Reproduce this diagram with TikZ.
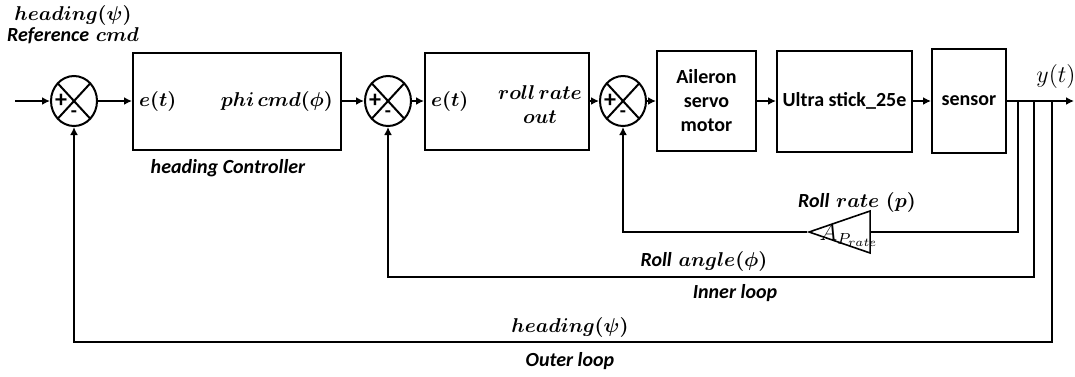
\documentclass[tikz,border=0pt]{standalone}
\usepackage{amsmath}
\usepackage{bm}
\usepackage{fontspec}
\newfontfamily\carlito{Carlito}
\usetikzlibrary{shapes.geometric,arrows.meta}

\tikzstyle{block} = [draw, rectangle, line width=1pt, inner sep=2pt]
\tikzstyle{sumj} = [draw, ellipse, line width=1pt, minimum width=23pt, minimum height=25pt, inner sep=0pt,
    path picture={\draw[line width=1pt] (path picture bounding box.north west) -- (path picture bounding box.south east)
    (path picture bounding box.south west) -- (path picture bounding box.north east);}]
\tikzstyle{sgn} = [inner sep=0pt, font=\carlito\bfseries]
\tikzstyle{sig} = [line width=1pt, -{Latex[length=4pt,width=4pt]}]
\tikzstyle{lbl} = [font=\carlito\bfseries\itshape]
\tikzstyle{gain} = [draw, isosceles triangle, shape border rotate=180, isosceles triangle stretches,
    minimum width=21pt, minimum height=30.5pt, inner sep=0pt, line width=0.8pt]

\begin{document}
\begin{tikzpicture}[x=0.5pt, y=-0.5pt]
\useasboundingbox (0,0) rectangle (1075,376);
% forward path
\coordinate (in) at (15,101);
\node[sumj] (s1) at (74,101) {};
\node[block, minimum width=104pt, minimum height=48.5pt] (ctrl) at (237,101) {};
\node[anchor=west] (e1) at (ctrl.west) {$\bm{e(t)}$};
\node[anchor=east] (phicmd) at ([xshift=-1pt]ctrl.east) {$\bm{phi\,cmd(\phi)}$};
\node[sumj] (s2) at (388,101) {};
\node[block, minimum width=82pt, minimum height=48.5pt] (rate) at (507,101) {};
\node[anchor=west] (e2) at (rate.west) {$\bm{e(t)}$};
\node[align=center] (rro) at (540,105) {$\bm{roll\,rate}$\\$\bm{out}$};
\node[sumj] (s3) at (623,101) {};
\node[block, minimum width=49.5pt, minimum height=50pt, align=center, font=\carlito\bfseries] (servo) at (706.5,101) {Aileron\\servo\\motor};
\node[block, minimum width=67.5pt, minimum height=50.5pt, font=\carlito\bfseries] (plant) at (844.5,101) {Ultra stick\_25e};
\node[block, minimum width=37pt, minimum height=52pt, font=\carlito\bfseries] (sensor) at (969,101) {sensor};
\coordinate (t1) at (1018,101);
\coordinate (t2) at (1034,101);
\coordinate (t3) at (1052,101);
\coordinate (out) at (1074,101);

% signs in the summing junctions
\foreach \s in {s1,s2,s3} {
    \node[sgn, font=\carlito\bfseries\large] (\s-p) at ([xshift=-6.5pt]\s.center) {+};
    \node[sgn] (\s-m) at ([yshift=-6.5pt]\s.center) {-};
}

\draw[sig] (in) -- (s1);
\draw[sig] (s1) -- (ctrl);
\draw[sig] (ctrl) -- (s2);
\draw[sig] (s2) -- (rate);
\draw[sig] (rate) -- (s3);
\draw[sig] (s3) -- (servo);
\draw[sig] (servo) -- (plant);
\draw[sig] (plant) -- (sensor);
\draw[sig] (sensor) -- (out);

% feedback loops
\node[gain, anchor=apex] (gain) at (807,232) {};
\node (glbl) at (849,235) {\large $A_{P_{rate}}$};
\coordinate (b2) at (1034,277);
\coordinate (b3) at (1052,342);
\draw[line width=1pt] (t1) |- (gain.lower side);
\draw[sig] (gain.apex) -| (s3.south);
\draw[sig] (t2) -- (b2) -| (s2.south);
\draw[sig] (t3) -- (b3) -| (s1.south);

% labels
\node (href) at (73,15) {$\bm{heading(\psi)}$};
\node (refcmd) at (73,36) {{\carlito\bfseries\itshape Reference} $\bm{cmd}$};
\node[lbl] (hctrl) at (228,168) {heading Controller};
\node (yt) at (1056,76) {\large $y(t)$};
\node (lrr) at (857,202) {{\carlito\bfseries\itshape Roll} $\bm{rate\ (p)}$};
\node (lra) at (704,261) {{\carlito\bfseries\itshape Roll} $\bm{angle(\phi)}$};
\node[lbl] (inner) at (735,293) {Inner loop};
\node (lhd) at (570,327) {$\bm{heading(\psi)}$};
\node[lbl] (outer) at (570,361) {Outer loop};
\end{tikzpicture}
\end{document}
